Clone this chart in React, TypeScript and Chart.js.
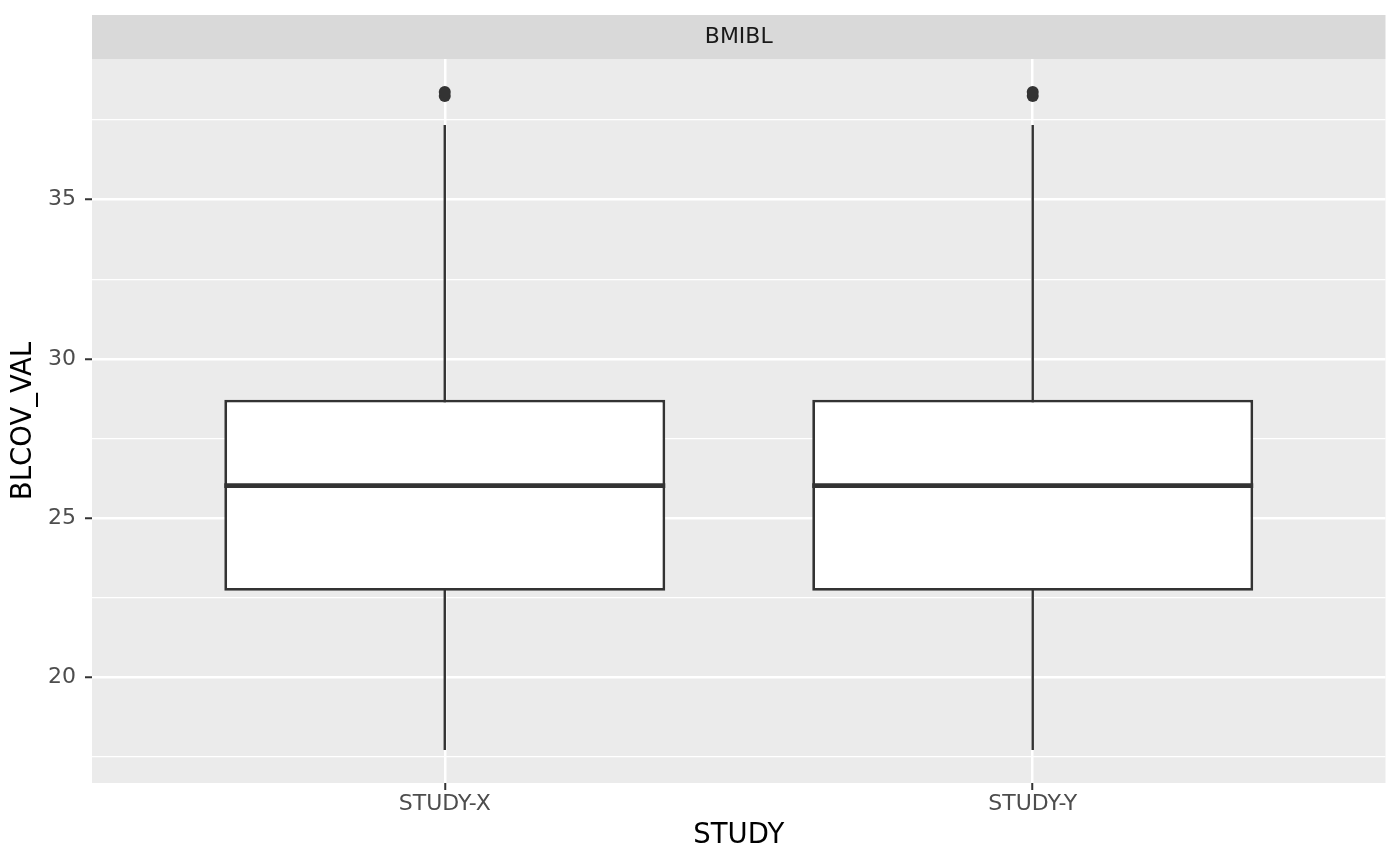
import React, { useEffect, useRef } from "react";
import { Chart, registerables } from "chart.js";

Chart.register(...registerables);

// ---- Data ----
const categories: string[] = ["STUDY-X", "STUDY-Y"];
const whiskerLow: number[] = [17.72, 17.72];
const q1: number[] = [22.72, 22.72];
const median: number[] = [26.02, 26.02];
const q3: number[] = [28.72, 28.72];
const whiskerHigh: number[] = [37.34, 37.34];
const outliers: number[][] = [
  [38.25, 38.38],
  [38.25, 38.38],
];
const facetLabel = "BMIBL";
const xTitle = "STUDY";
const yTitle = "BLCOV_VAL";

// ---- Style constants ----
const BOX_WIDTH = 0.75;
const INK = "#333333";
const FONT = "'DejaVu Sans', 'Liberation Sans', sans-serif";

export default function App() {
  const ref = useRef<HTMLCanvasElement | null>(null);

  useEffect(() => {
    if (!ref.current) return;

    const allVals = [...whiskerLow, ...whiskerHigh, ...outliers.flat()];
    const dMin = Math.min(...allVals);
    const dMax = Math.max(...allVals);
    const pad = (dMax - dMin) * 0.05;

    const isMajor = (v: number) => Math.abs(v / 5 - Math.round(v / 5)) < 1e-6;

    const bgPlugin = {
      id: "ggBackground",
      beforeDraw(chart: any) {
        const { ctx, chartArea } = chart;
        ctx.save();
        ctx.fillStyle = "#EBEBEB";
        ctx.fillRect(chartArea.left, chartArea.top, chartArea.right - chartArea.left, chartArea.bottom - chartArea.top);
        const tb = chart.titleBlock;
        if (tb) {
          ctx.fillStyle = "#D9D9D9";
          ctx.fillRect(chartArea.left, tb.top, chartArea.right - chartArea.left, chartArea.top - tb.top);
        }
        ctx.restore();
      },
    };

    const whiskerSets = categories.map((_, i) => ({
      type: "line" as const,
      data: [
        { x: i + 1, y: whiskerLow[i] },
        { x: i + 1, y: whiskerHigh[i] },
      ],
      borderColor: INK,
      borderWidth: 2.4,
      pointRadius: 0,
      fill: false,
      order: 4,
    }));

    const medianSets = categories.map((_, i) => ({
      type: "line" as const,
      data: [
        { x: i + 1 - BOX_WIDTH / 2, y: median[i] },
        { x: i + 1 + BOX_WIDTH / 2, y: median[i] },
      ],
      borderColor: INK,
      borderWidth: 4.6,
      borderCapStyle: "butt",
      pointRadius: 0,
      fill: false,
      order: 2,
    }));

    const chart = new Chart(ref.current, {
      type: "bar",
      data: {
        datasets: [
          ...whiskerSets,
          {
            type: "bar" as const,
            data: categories.map((_, i) => ({ x: i + 1, y: [q1[i], q3[i]] })),
            backgroundColor: "#FFFFFF",
            borderColor: INK,
            borderWidth: 2.8,
            borderSkipped: false,
            barPercentage: BOX_WIDTH,
            categoryPercentage: 1,
            order: 3,
          },
          ...medianSets,
          {
            type: "scatter" as const,
            data: categories.flatMap((_, i) => outliers[i].map((v) => ({ x: i + 1, y: v }))),
            backgroundColor: INK,
            borderWidth: 0,
            pointRadius: 6,
            order: 1,
          },
        ] as any,
      },
      options: {
        responsive: false,
        animation: false,
        devicePixelRatio: 1,
        layout: { padding: { top: 15, right: 14.5, left: 0, bottom: 0 } },
        plugins: {
          legend: { display: false },
          tooltip: { enabled: false },
          title: {
            display: true,
            text: facetLabel,
            fullSize: false,
            color: "#1A1A1A",
            font: { family: FONT, size: 22, weight: "normal" },
            padding: { top: 8.8, bottom: 8.8 },
          },
        },
        scales: {
          x: {
            type: "linear",
            min: 0.4,
            max: 2.6,
            offset: false,
            afterBuildTicks: (scale: any) => {
              scale.ticks = categories.map((_, i) => ({ value: i + 1 }));
            },
            afterFit: (scale: any) => {
              scale.height = 83;
            },
            ticks: {
              autoSkip: false,
              maxRotation: 0,
              padding: 1,
              color: "#4D4D4D",
              font: { family: FONT, size: 22 },
              callback: (v: any) => categories[Math.round(Number(v)) - 1] ?? "",
            },
            grid: {
              offset: false,
              color: "#FFFFFF",
              lineWidth: 2.5,
              tickLength: 7,
              tickColor: INK,
              tickWidth: 2,
            },
            border: { display: false },
            title: {
              display: true,
              text: xTitle,
              color: "#000000",
              font: { family: FONT, size: 27.5 },
              padding: { top: 0, bottom: 14 },
            },
          },
          y: {
            type: "linear",
            min: dMin - pad,
            max: dMax + pad,
            afterFit: (scale: any) => {
              scale.width = 92;
            },
            ticks: {
              stepSize: 2.5,
              includeBounds: false,
              autoSkip: false,
              padding: 9,
              color: "#4D4D4D",
              font: { family: FONT, size: 22 },
              callback: (v: any) => (isMajor(Number(v)) ? String(v) : ""),
            },
            grid: {
              color: "#FFFFFF",
              lineWidth: (ctx: any) => (ctx.tick && isMajor(ctx.tick.value) ? 2.5 : 1.2),
              tickLength: 7,
              tickWidth: 2,
              tickColor: (ctx: any) => (ctx.tick && isMajor(ctx.tick.value) ? INK : "rgba(0,0,0,0)"),
            },
            border: { display: false },
            title: {
              display: true,
              text: yTitle,
              color: "#000000",
              font: { family: FONT, size: 27.5 },
              padding: { top: 7.5, bottom: 0 },
            },
          },
        },
      } as any,
      plugins: [bgPlugin],
    });

    return () => chart.destroy();
  }, []);

  return (
    <div style={{ position: "fixed", left: 0, top: 0, width: 1400, height: 866, background: "#FFFFFF" }}>
      <canvas ref={ref} width={1400} height={866} style={{ display: "block", width: 1400, height: 866 }} />
    </div>
  );
}
